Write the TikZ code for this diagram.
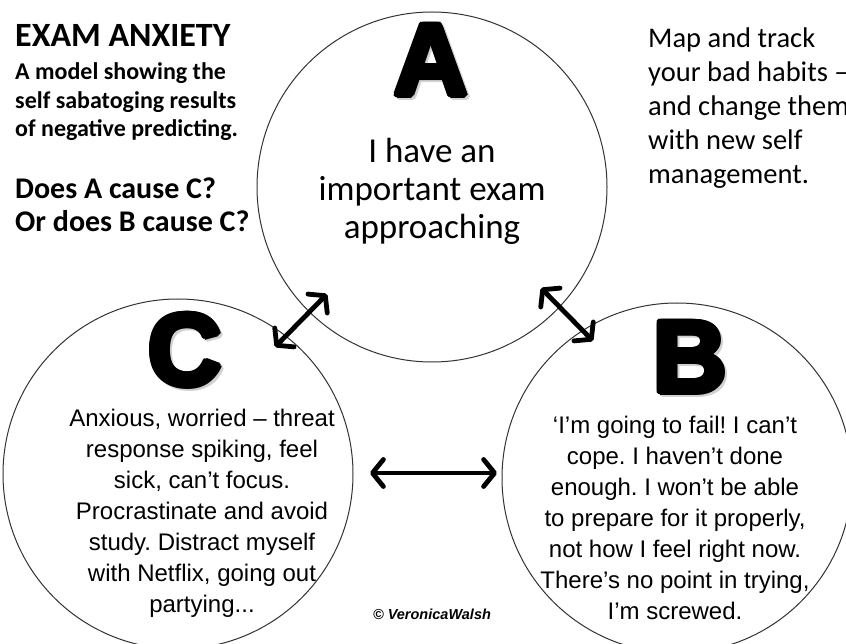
\documentclass[tikz,border=0pt]{standalone}
\usepackage{fontspec}
\setmainfont{Carlito}
\newfontfamily\arialf{Liberation Sans}
\newfontfamily\heavyf{Liberation Sans Bold}
\usetikzlibrary{arrows.meta,calc}

\tikzset{
  ring/.style={circle, draw=black!80, line width=1pt, minimum size=350pt, inner sep=0pt},
  bigletter/.style={inner sep=0pt, font=\heavyf\fontsize{102}{102}\selectfont},
  twoway/.style={line width=4.8pt, line cap=round,
    {Straight Barb[length=11pt,width=27pt,round]}-{Straight Barb[length=11pt,width=27pt,round]}},
  bubbletext/.style={inner sep=0pt, align=center, font=\arialf\fontsize{24}{31}\selectfont},
}

% a heavy letter: soft shadow first, then the glyph stamped around a small ring
\newcommand\heavyletter[3]{%
  \foreach \ang in {0,45,...,315}{
    \node[bigletter, text=black!18] (#1sh\ang) at ($(#2)+(\ang:3pt)+(2.5,2.5)$) {#3};
  }
  \foreach \ang in {0,30,...,330}{
    \node[bigletter] (#1st\ang) at ($(#2)+(\ang:3pt)$) {#3};
  }
  \node[bigletter] (#1) at (#2) {#3};
}

\begin{document}
\frenchspacing
\begin{tikzpicture}[x=1pt,y=-1pt]
\clip (0,0) rectangle (846,644);
\fill[white] (0,0) rectangle (846,644);

% the three circles of the cycle
\node[ring] (A) at (432,187) {};
\node[ring] (C) at (178,474) {};
\node[ring] (B) at (677,478) {};

% heavy letters
\heavyletter{Alet}{431,60}{A}
\heavyletter{Blet}{690,357}{B}
\heavyletter{Clet}{185,350}{C}

% circle texts
\node[inner sep=0pt, align=center, font=\fontsize{35}{38}\selectfont] (Atext) at (432,191)
  {I have an\\important exam\\approaching};
\node[bubbletext] (Ctext) at (202,513)
  {Anxious, worried – threat\\response spiking, feel\\sick, can’t focus.\\Procrastinate and avoid\\study. Distract myself\\with Netflix, going out\\partying...};
\node[bubbletext] (Btext) at (675,518)
  {‘I’m going to fail! I can’t\\cope. I haven’t done\\enough. I won’t be able\\to prepare for it properly,\\not how I feel right now.\\There’s no point in trying,\\I’m screwed.};

% title block (base anchor sits on the last line)
\node[anchor=base west, inner sep=0pt, font=\bfseries\fontsize{34}{34}\selectfont] (title) at (15,47) {EXAM ANXIETY};
\node[anchor=base west, inner sep=0pt, align=left, font=\bfseries\fontsize{24}{28.5}\selectfont] (sub) at (15,137)
  {A model showing the\\self sabatoging results\\of negative predicting.};
\node[anchor=base west, inner sep=0pt, align=left, font=\bfseries\fontsize{30}{33}\selectfont] (quest) at (15,232)
  {Does A cause C?\\Or does B cause C?};

% advice text
\node[anchor=base west, inner sep=0pt, align=left, font=\fontsize{28.5}{34}\selectfont] (advice) at (648,184)
  {Map and track\\your bad habits –\\and change them\\with new self\\management.};

% credit
\node[inner sep=0pt, font=\arialf\bfseries\itshape\fontsize{14.5}{16}\selectfont] (credit) at (432,614) {© VeronicaWalsh};

% two-way arrows between the circles
\coordinate (ac1) at (275,347);
\coordinate (ac2) at (327,294);
\coordinate (ab1) at (541,288);
\coordinate (ab2) at (593,341);
\coordinate (cb1) at (370,473);
\coordinate (cb2) at (497,473);
\draw[twoway] (ac1) -- (ac2);
\draw[twoway] (ab1) -- (ab2);
\draw[twoway] (cb1) -- (cb2);
\end{tikzpicture}
\end{document}
